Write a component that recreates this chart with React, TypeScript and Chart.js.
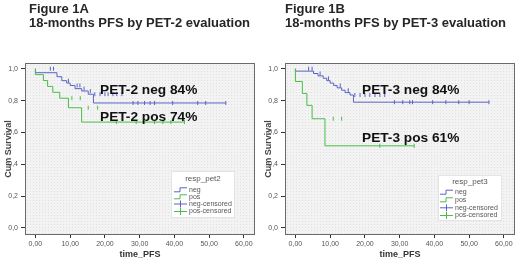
import React, { useEffect, useRef } from "react";
import { Chart, registerables } from "chart.js";

Chart.register(...registerables);

const FONT = "'Liberation Sans', Arial, Helvetica, sans-serif";
const BLUE = "#5a63c6";
const GREEN = "#48be48";

const xTickValues = [0, 10, 20, 30, 40, 50, 60];
const yTickValues = [0, 0.2, 0.4, 0.6, 0.8, 1.0];

// Figure 1A – PET-2
const pet2NegTime = [0, 6.2, 7.6, 9.0, 10.0, 11.4, 13.3, 15.2, 16.7, 26.7, 54.8];
const pet2NegSurv = [1.0, 0.975, 0.95, 0.925, 0.91, 0.895, 0.875, 0.86, 0.84, 0.785, 0.785];
const pet2NegCensored = [4.3, 5.2, 9.5, 12.0, 12.8, 14.0, 15.8, 17.1, 18.6, 20.0, 20.9, 22.3, 23.4, 24.9, 28.1, 29.5, 31.4, 33.0, 34.3, 39.5, 46.7, 49.0, 54.8];
const pet2PosTime = [0, 2.3, 3.5, 5.0, 7.0, 9.5, 13.3, 18.6, 42.9];
const pet2PosSurv = [1.0, 0.963, 0.926, 0.889, 0.852, 0.815, 0.755, 0.665, 0.665];
const pet2PosCensored = [10.5, 12.9, 15.2, 17.9, 23.3, 29.0, 34.3, 36.7, 39.0, 42.9];

// Figure 1B – PET-3
const pet3NegTime = [0, 5.2, 6.5, 8.0, 9.0, 10.0, 11.0, 12.0, 13.3, 14.3, 15.7, 16.7, 27.0, 55.7];
const pet3NegSurv = [1.0, 0.985, 0.97, 0.955, 0.94, 0.925, 0.91, 0.895, 0.88, 0.865, 0.85, 0.835, 0.79, 0.79];
const pet3NegCensored = [3.8, 4.8, 7.1, 9.5, 12.9, 15.2, 17.1, 18.6, 20.0, 21.4, 22.9, 24.3, 25.7, 28.5, 30.9, 32.9, 33.7, 39.5, 43.3, 47.0, 50.0, 55.7];
const pet3PosTime = [0, 2.0, 3.3, 4.8, 8.5, 18.0, 34.2];
const pet3PosSurv = [1.0, 0.92, 0.845, 0.77, 0.686, 0.516, 0.516];
const pet3PosCensored = [10.9, 13.3, 24.3, 34.2];

const legendItems = ["neg", "pos", "neg-censored", "pos-censored"];

function levelAt(times: number[], surv: number[], t: number) {
  let v = surv[0];
  for (let i = 0; i < times.length; i++) if (times[i] <= t) v = surv[i];
  return v;
}

type Spec = {
  figure: string;
  subtitle: string;
  titleX: number;
  negLabel: string;
  posLabel: string;
  negLabelXY: [number, number];
  posLabelXY: [number, number];
  legendTitle: string;
  legendBox: [number, number, number, number];
  legendRows: number[];
  legendSymX: number;
  rightPad: number;
  negTime: number[];
  negSurv: number[];
  negCens: number[];
  posTime: number[];
  posSurv: number[];
  posCens: number[];
};

const specA: Spec = {
  figure: "Figure 1A",
  subtitle: "18-months PFS by PET-2 evaluation",
  titleX: 29,
  negLabel: "PET-2 neg 84%",
  posLabel: "PET-2 pos 74%",
  negLabelXY: [100, 90],
  posLabelXY: [100, 117],
  legendTitle: "resp_pet2",
  legendBox: [171, 171, 64, 47],
  legendRows: [178.5, 189.3, 196.3, 203.5, 211],
  legendSymX: 174,
  rightPad: 5,
  negTime: pet2NegTime,
  negSurv: pet2NegSurv,
  negCens: pet2NegCensored,
  posTime: pet2PosTime,
  posSurv: pet2PosSurv,
  posCens: pet2PosCensored,
};

const specB: Spec = {
  figure: "Figure 1B",
  subtitle: "18-months PFS by PET-3 evaluation",
  titleX: 25,
  negLabel: "PET-3 neg 84%",
  posLabel: "PET-3 pos 61%",
  negLabelXY: [102, 90],
  posLabelXY: [102, 138.5],
  legendTitle: "resp_pet3",
  legendBox: [178, 175, 64, 46],
  legendRows: [182, 191.7, 199.3, 207.3, 215],
  legendSymX: 180,
  rightPad: 2,
  negTime: pet3NegTime,
  negSurv: pet3NegSurv,
  negCens: pet3NegCensored,
  posTime: pet3PosTime,
  posSurv: pet3PosSurv,
  posCens: pet3PosCensored,
};

function Panel({ spec }: { spec: Spec }) {
  const ref = useRef<HTMLCanvasElement | null>(null);
  useEffect(() => {
    if (!ref.current) return;
    const steps = (t: number[], s: number[]) => t.map((x, i) => ({ x, y: s[i] }));
    const cens = (c: number[], t: number[], s: number[]) => c.map((x) => ({ x, y: levelAt(t, s, x) }));

    const deco = {
      id: "deco",
      beforeDraw(chart: any) {
        const { ctx, chartArea: a } = chart;
        ctx.save();
        ctx.fillStyle = "#ffffff";
        ctx.fillRect(0, 0, chart.width, chart.height);
        ctx.fillStyle = "#f3f3f3";
        ctx.fillRect(a.left, a.top, a.right - a.left, a.bottom - a.top);
        ctx.fillStyle = "#e0e0e0";
        for (let x = a.left + 2; x < a.right; x += 3) {
          for (let y = a.top + 2; y < a.bottom; y += 3) ctx.fillRect(x, y, 1, 1);
        }
        ctx.restore();
      },
      afterDraw(chart: any) {
        const { ctx, chartArea: a } = chart;
        ctx.save();
        // plot frame
        ctx.strokeStyle = "#6a6a6a";
        ctx.lineWidth = 1;
        ctx.strokeRect(a.left + 0.5, a.top + 0.5, a.right - a.left - 1, a.bottom - a.top - 1);
        // titles
        ctx.fillStyle = "#262626";
        ctx.font = `bold 13px ${FONT}`;
        ctx.textBaseline = "middle";
        ctx.textAlign = "left";
        ctx.fillText(spec.figure, spec.titleX, 9.5);
        ctx.fillText(spec.subtitle, spec.titleX, 23.5);
        // curve labels
        ctx.fillStyle = "#111";
        ctx.font = `bold 13.7px ${FONT}`;
        ctx.fillText(spec.negLabel, spec.negLabelXY[0], spec.negLabelXY[1]);
        ctx.fillText(spec.posLabel, spec.posLabelXY[0], spec.posLabelXY[1]);
        // legend
        const [bx, by, bw, bh] = spec.legendBox;
        ctx.fillStyle = "#ffffff";
        ctx.fillRect(bx, by, bw, bh);
        ctx.strokeStyle = "#e4e4e4";
        ctx.strokeRect(bx + 0.5, by + 0.5, bw - 1, bh - 1);
        ctx.fillStyle = "#555";
        ctx.font = `8px ${FONT}`;
        ctx.textAlign = "center";
        ctx.fillText(spec.legendTitle, bx + bw / 2, spec.legendRows[0]);
        ctx.textAlign = "left";
        ctx.font = `7px ${FONT}`;
        const sx = spec.legendSymX;
        legendItems.forEach((label, i) => {
          const y = spec.legendRows[i + 1];
          const col = i % 2 === 0 ? BLUE : GREEN;
          ctx.strokeStyle = col;
          ctx.lineWidth = 1;
          ctx.beginPath();
          if (i < 2) {
            ctx.moveTo(sx, y + 2.5);
            ctx.lineTo(sx + 6, y + 2.5);
            ctx.lineTo(sx + 6, y - 1.5);
            ctx.lineTo(sx + 13, y - 1.5);
          } else {
            ctx.moveTo(sx, y + 0.5);
            ctx.lineTo(sx + 13, y + 0.5);
            ctx.moveTo(sx + 6.5, y - 3);
            ctx.lineTo(sx + 6.5, y + 4);
          }
          ctx.stroke();
          ctx.fillStyle = "#555";
          ctx.fillText(label, sx + 15, y + 0.5);
        });
        ctx.restore();
      },
    };

    const chart = new Chart(ref.current, {
      type: "line",
      data: {
        datasets: [
          {
            data: steps(spec.posTime, spec.posSurv),
            stepped: "after",
            borderColor: GREEN,
            borderWidth: 1,
            pointRadius: 0,
            fill: false,
            order: 1,
          },
          {
            data: steps(spec.negTime, spec.negSurv),
            stepped: "after",
            borderColor: BLUE,
            borderWidth: 1,
            pointRadius: 0,
            fill: false,
            order: 2,
          },
          {
            data: cens(spec.posCens, spec.posTime, spec.posSurv),
            showLine: false,
            pointStyle: "line",
            rotation: 90,
            pointRadius: 2,
            borderColor: GREEN,
            borderWidth: 1,
            order: 0,
          },
          {
            data: cens(spec.negCens, spec.negTime, spec.negSurv),
            showLine: false,
            pointStyle: "line",
            rotation: 90,
            pointRadius: 2,
            borderColor: BLUE,
            borderWidth: 1,
            order: 0,
          },
        ],
      } as any,
      options: {
        animation: false,
        responsive: false,
        devicePixelRatio: 1,
        events: [],
        layout: { padding: { left: 0, right: spec.rightPad, top: 63, bottom: 0 } },
        plugins: { legend: { display: false }, tooltip: { enabled: false }, title: { display: false } },
        scales: {
          x: {
            type: "linear",
            min: -3,
            max: 63.2,
            afterBuildTicks: (s: any) => {
              s.ticks = xTickValues.map((value) => ({ value }));
            },
            afterFit: (s: any) => {
              s.height = 25;
            },
            ticks: {
              autoSkip: false,
              maxRotation: 0,
              padding: 2,
              color: "#555",
              font: { family: FONT, size: 7 },
              callback: (v: any) => Number(v).toFixed(2).replace(".", ","),
            },
            grid: { drawOnChartArea: false, drawTicks: true, tickLength: 3, color: "#333" },
            border: { display: false },
            title: {
              display: true,
              text: "time_PFS",
              color: "#333",
              font: { family: FONT, size: 9, weight: "bold" },
              padding: { top: 0, bottom: 0 },
            },
          },
          y: {
            type: "linear",
            min: -0.044,
            max: 1.036,
            afterBuildTicks: (s: any) => {
              s.ticks = yTickValues.map((value) => ({ value }));
            },
            afterFit: (s: any) => {
              s.width = 25;
            },
            ticks: {
              autoSkip: false,
              padding: 3,
              color: "#555",
              font: { family: FONT, size: 7 },
              callback: (v: any) => Number(v).toFixed(1).replace(".", ","),
            },
            grid: { drawOnChartArea: false, drawTicks: true, tickLength: 4, color: "#333" },
            border: { display: false },
            title: {
              display: true,
              text: "Cum Survival",
              color: "#444",
              font: { family: FONT, size: 9, weight: "bold" },
              padding: { top: 3, bottom: 0 },
            },
          },
        },
      } as any,
      plugins: [deco],
    });
    return () => chart.destroy();
  }, [spec]);
  return <canvas ref={ref} width={260} height={260} style={{ display: "block", width: 260, height: 260 }} />;
}

export default function App() {
  return (
    <div style={{ position: "fixed", left: 0, top: 0, width: 520, height: 260, display: "flex", background: "#fff" }}>
      <Panel spec={specA} />
      <Panel spec={specB} />
    </div>
  );
}
